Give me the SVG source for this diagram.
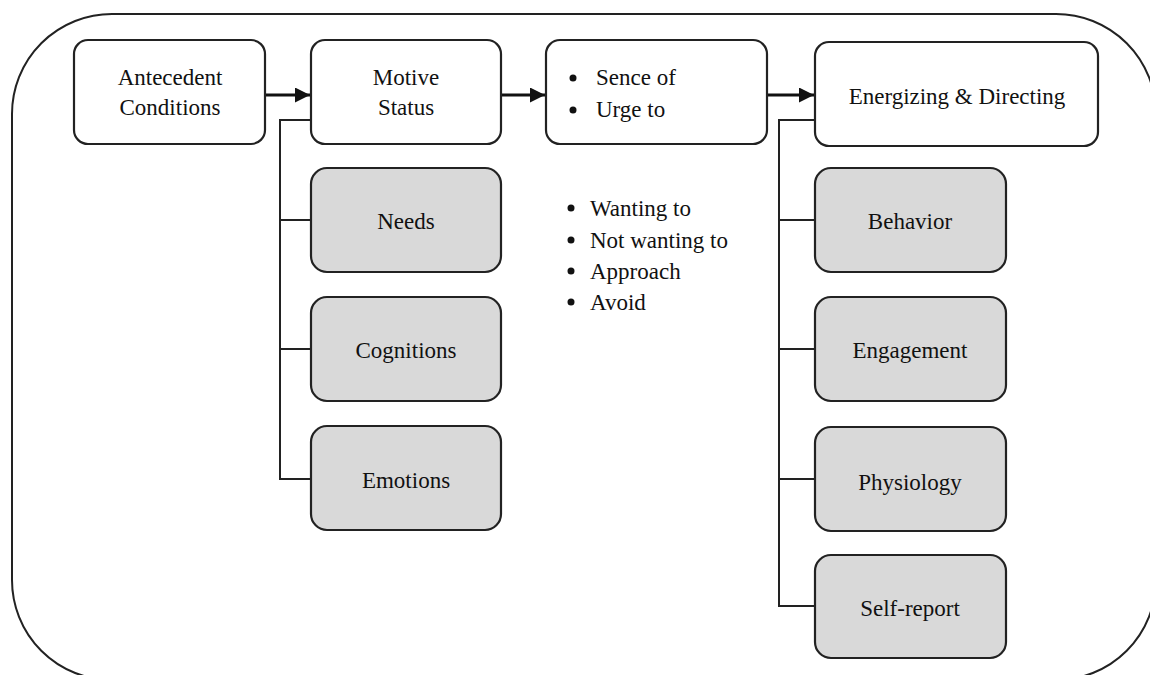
<svg xmlns="http://www.w3.org/2000/svg" width="1150" height="675" viewBox="0 0 1150 675">
<defs>
<style>
.box{fill:#ffffff;stroke:#222;stroke-width:2.2}
.gbox{fill:#d9d9d9;stroke:#222;stroke-width:2.2}
.t{font-family:"Liberation Serif","Times New Roman",serif;font-size:23px;fill:#111}
.c{text-anchor:middle}
.ln{fill:none;stroke:#222;stroke-width:2}
.ar{fill:none;stroke:#111;stroke-width:3;marker-end:url(#ah)}
</style>
<marker id="ah" viewBox="0 0 10 10" refX="10" refY="5" markerWidth="5" markerHeight="5" orient="auto" markerUnits="strokeWidth">
<path d="M0,0 L10,5 L0,10 Z" fill="#111"/>
</marker>
</defs>
<rect width="1150" height="675" fill="#ffffff"/>
<path id="frame" d="M12,114 A100,100 0 0 1 112,14 L1056,14 A100,100 0 0 1 1156,114 L1156,580 A100,100 0 0 1 1056,680 L112,680 A100,100 0 0 1 12,580 Z" fill="none" stroke="#222" stroke-width="2"/>
<g id="connectors">
<path class="ar" d="M265,95 L310,95"/>
<path class="ar" d="M501,95 L545,95"/>
<path class="ar" d="M767,95 L814,95"/>
<path class="ln" d="M311,120 L280,120 L280,479 L311,479 M280,220 L311,220 M280,349 L311,349"/>
<path class="ln" d="M815,120 L779,120 L779,606 L815,606 M779,220 L815,220 M779,349 L815,349 M779,479 L815,479"/>
</g>
<g id="antecedent">
<rect class="box" x="74" y="40" width="191" height="104" rx="14"/>
<text class="t c" x="170" y="85">Antecedent</text>
<text class="t c" x="170" y="115">Conditions</text>
</g>
<g id="motive">
<rect class="box" x="311" y="40" width="190" height="104" rx="14"/>
<text class="t c" x="406" y="85">Motive</text>
<text class="t c" x="406" y="115">Status</text>
</g>
<g id="sence">
<rect class="box" x="546" y="40" width="221" height="104" rx="14"/>
<circle cx="573" cy="78" r="3.5" fill="#111"/>
<text class="t" x="596" y="85">Sence of</text>
<circle cx="573" cy="110" r="3.5" fill="#111"/>
<text class="t" x="596" y="117">Urge to</text>
</g>
<g id="energizing">
<rect class="box" x="815" y="42" width="283" height="104" rx="14"/>
<text class="t c" x="957" y="104">Energizing &amp; Directing</text>
</g>
<g id="needs">
<rect class="gbox" x="311" y="168" width="190" height="104" rx="16"/>
<text class="t c" x="406" y="229">Needs</text>
</g>
<g id="cognitions">
<rect class="gbox" x="311" y="297" width="190" height="104" rx="16"/>
<text class="t c" x="406" y="358">Cognitions</text>
</g>
<g id="emotions">
<rect class="gbox" x="311" y="426" width="190" height="104" rx="16"/>
<text class="t c" x="406" y="488">Emotions</text>
</g>
<g id="list">
<circle cx="571" cy="208" r="3.5" fill="#111"/>
<text class="t" x="590" y="216">Wanting to</text>
<circle cx="571" cy="240" r="3.5" fill="#111"/>
<text class="t" x="590" y="248">Not wanting to</text>
<circle cx="571" cy="271" r="3.5" fill="#111"/>
<text class="t" x="590" y="279">Approach</text>
<circle cx="571" cy="302" r="3.5" fill="#111"/>
<text class="t" x="590" y="310">Avoid</text>
</g>
<g id="behavior">
<rect class="gbox" x="815" y="168" width="191" height="104" rx="16"/>
<text class="t c" x="910" y="229">Behavior</text>
</g>
<g id="engagement">
<rect class="gbox" x="815" y="297" width="191" height="104" rx="16"/>
<text class="t c" x="910" y="358">Engagement</text>
</g>
<g id="physiology">
<rect class="gbox" x="815" y="427" width="191" height="104" rx="16"/>
<text class="t c" x="910" y="490">Physiology</text>
</g>
<g id="selfreport">
<rect class="gbox" x="815" y="555" width="191" height="103" rx="16"/>
<text class="t c" x="910" y="616">Self-report</text>
</g>
</svg>
